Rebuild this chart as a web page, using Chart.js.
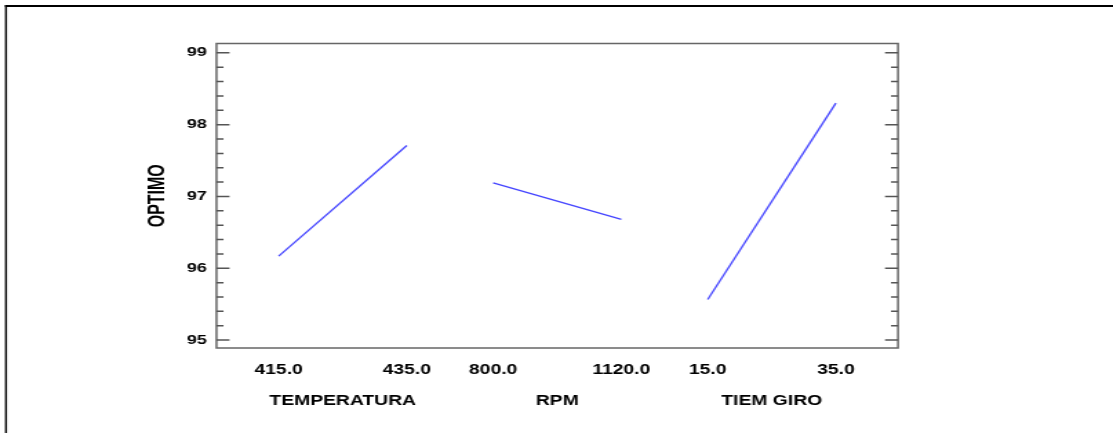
<!DOCTYPE html>
<html><head><meta charset="utf-8">
<script src="https://cdn.jsdelivr.net/npm/chart.js@4/dist/chart.umd.min.js"></script>
<style>
html,body{margin:0;padding:0;background:#fff;overflow:hidden}
#wrap{width:1113px;height:433px;position:relative;overflow:hidden;background:#fff}
#c{position:absolute;left:0;top:0;transform:scaleX(1.379182);transform-origin:0 0}
</style></head><body><div id="wrap"><canvas id="c" width="807" height="433"></canvas></div>
<script>
// ---- data ----
const factors = ['TEMPERATURA', 'RPM', 'TIEM GIRO'];
const lowLabels = ['415.0', '800.0', '15.0'];
const highLabels = ['435.0', '1120.0', '35.0'];
const lowMeans = [96.17, 97.19, 95.565];
const highMeans = [97.71, 96.68, 98.30];
const yTicks = [95, 96, 97, 98, 99];
const yTitle = 'OPTIMO';

// ---- layout helpers ----
const S = 1113 / 807;
const GAP = 0.674;
const pos = (i, k) => i * (1 + GAP) + k;
const xTickPos = [], xTickLabels = [], xCenters = [];
factors.forEach((f, i) => {
  xTickPos.push(pos(i, 0), pos(i, 1));
  xTickLabels.push(lowLabels[i], highLabels[i]);
  xCenters.push(pos(i, 0.5));
});
const XMIN = -0.485, XMAX = pos(factors.length - 1, 1) + 0.485;

const FONT = 'Liberation Sans, Arial, sans-serif';

const framePlugin = {
  id: 'frame',
  afterDraw(chart) {
    const ctx = chart.ctx, a = chart.chartArea, ys = chart.scales.y;
    ctx.save();
    // outer border
    ctx.fillStyle = '#000';
    ctx.fillRect(5 / S, 5, 2 / S, 440);
    ctx.fillRect(5 / S, 5, 900, 2);
    // plot frame
    ctx.strokeStyle = '#666';
    ctx.lineWidth = 1.5;
    ctx.strokeRect(a.left, a.top, a.right - a.left, a.bottom - a.top);
    // y ticks (inward, both sides)
    ctx.strokeStyle = '#555';
    ctx.lineWidth = 1.5;
    const majorLen = 13 / S, minorLen = 7 / S;
    const tick = (v, len) => {
      const p = ys.getPixelForValue(v);
      ctx.beginPath();
      ctx.moveTo(a.left, p); ctx.lineTo(a.left + len, p);
      ctx.moveTo(a.right, p); ctx.lineTo(a.right - len, p);
      ctx.stroke();
    };
    yTicks.forEach((v, i) => {
      tick(v, majorLen);
      if (i < yTicks.length - 1) {
        const step = (yTicks[i + 1] - v) / 5;
        for (let k = 1; k < 5; k++) tick(v + k * step, minorLen);
      }
    });
    ctx.restore();
  }
};

new Chart(document.getElementById('c'), {
  type: 'line',
  data: {
    datasets: factors.map((f, i) => ({
      label: f,
      data: [{ x: pos(i, 0), y: lowMeans[i] }, { x: pos(i, 1), y: highMeans[i] }],
      borderColor: '#4646ff',
      borderWidth: 1.3,
      pointRadius: 0,
      fill: false,
      tension: 0
    }))
  },
  options: {
    responsive: false,
    animation: false,
    devicePixelRatio: 1,
    layout: { padding: { left: 0, right: 807 - 898 / S, top: 43.5, bottom: 10 } },
    plugins: { legend: { display: false }, tooltip: { enabled: false } },
    scales: {
      x: {
        type: 'linear', position: 'bottom', weight: 0,
        min: XMIN, max: XMAX,
        afterBuildTicks: s => { s.ticks = xTickPos.map(v => ({ value: v })); },
        afterFit: s => { s.height = 35; },
        grid: { display: false, drawTicks: false },
        border: { display: false },
        ticks: {
          autoSkip: false, maxRotation: 0, minRotation: 0, padding: 13.6,
          color: '#000', font: { family: FONT, size: 14, weight: 'bold' },
          callback: (v, i) => xTickLabels[i]
        }
      },
      x2: {
        type: 'linear', position: 'bottom', weight: 1,
        min: XMIN, max: XMAX,
        afterBuildTicks: s => { s.ticks = xCenters.map(v => ({ value: v })); },
        afterFit: s => { s.height = 40; },
        grid: { display: false, drawTicks: false },
        border: { display: false },
        ticks: {
          autoSkip: false, maxRotation: 0, minRotation: 0, padding: 9.6,
          color: '#000', font: { family: FONT, size: 14, weight: 'bold' },
          callback: (v, i) => factors[i]
        }
      },
      y: {
        type: 'linear', position: 'left',
        min: 94.89, max: 99.13,
        afterBuildTicks: s => { s.ticks = yTicks.map(v => ({ value: v })); },
        afterFit: s => { s.width = 216.5 / S; },
        grid: { display: false, drawTicks: false },
        border: { display: false },
        ticks: {
          padding: 7, color: '#000',
          font: { family: FONT, size: 13, weight: 'bold' },
          callback: v => String(v)
        },
        title: {
          display: true, text: yTitle, color: '#000',
          font: { family: FONT, size: 16, weight: 'bold' },
          padding: { top: 157.5 / S - 9.6, bottom: 0 }
        }
      }
    }
  },
  plugins: [framePlugin]
});
</script></body></html>
